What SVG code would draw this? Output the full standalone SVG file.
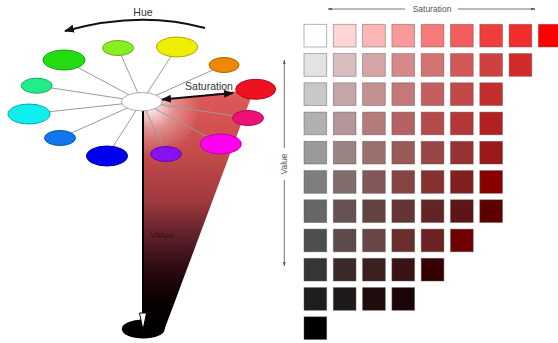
<svg xmlns="http://www.w3.org/2000/svg" width="558" height="343" viewBox="0 0 558 343">
<style>
  .lbl { font-family: "Liberation Sans", Arial, sans-serif; fill: #333; }
  .spoke { stroke: #9a9a9a; stroke-width: 1; fill: none; }
  .hue { stroke-width: 1; }
  .sq { stroke: #555; stroke-opacity: 0.55; stroke-width: 0.8; }
  .gax { stroke: #666; stroke-width: 0.9; fill: none; }
</style>
<defs>
  <marker id="ah" viewBox="0 0 10 10" refX="9" refY="5" markerWidth="5" markerHeight="5" orient="auto-start-reverse" markerUnits="strokeWidth">
    <path d="M0,1 L10,5 L0,9 Z" fill="#111"/>
  </marker>
  <marker id="ahg" viewBox="0 0 10 10" refX="9" refY="5" markerWidth="5" markerHeight="5" orient="auto-start-reverse" markerUnits="strokeWidth">
    <path d="M0,2 L10,5 L0,8 Z" fill="#555"/>
  </marker>
  <linearGradient id="redfall" x1="0" y1="90" x2="0" y2="330" gradientUnits="userSpaceOnUse">
    <stop offset="0" stop-color="#e05a5a"/>
    <stop offset="0.25" stop-color="#c84c4c"/>
    <stop offset="0.46" stop-color="#a03a40"/>
    <stop offset="0.6" stop-color="#62222a"/>
    <stop offset="0.75" stop-color="#2a0a10"/>
    <stop offset="0.88" stop-color="#0a0000"/>
    <stop offset="1" stop-color="#000"/>
  </linearGradient>
  <radialGradient id="glow" cx="152" cy="108" r="48" gradientUnits="userSpaceOnUse">
    <stop offset="0" stop-color="#fff" stop-opacity="0.9"/>
    <stop offset="0.45" stop-color="#fff" stop-opacity="0.35"/>
    <stop offset="1" stop-color="#fff" stop-opacity="0"/>
  </radialGradient>
</defs>

<g id="value-cone">
  <polygon points="143,105 162,100 238,91 252,95 164.6,329 143,329" fill="url(#redfall)"/>
  <polygon points="143,105 162,100 238,91 252,95 164.6,329 143,329" fill="url(#glow)"/>
  <ellipse cx="143.3" cy="329" rx="21.5" ry="9.5" fill="#000"/>
</g>

<g id="connectors">
  <line class="spoke" x1="141.7" y1="101.7" x2="64" y2="60"/>
  <line class="spoke" x1="141.7" y1="101.7" x2="118" y2="48"/>
  <line class="spoke" x1="141.7" y1="101.7" x2="177" y2="47"/>
  <line class="spoke" x1="141.7" y1="101.7" x2="224" y2="65"/>
  <line class="spoke" x1="141.7" y1="101.7" x2="248" y2="118"/>
  <line class="spoke" x1="141.7" y1="101.7" x2="220.7" y2="144"/>
  <line class="spoke" x1="141.7" y1="101.7" x2="166" y2="154"/>
  <line class="spoke" x1="141.7" y1="101.7" x2="107" y2="156"/>
  <line class="spoke" x1="141.7" y1="101.7" x2="60" y2="138"/>
  <line class="spoke" x1="141.7" y1="101.7" x2="29" y2="114"/>
  <line class="spoke" x1="141.7" y1="101.7" x2="36.7" y2="85.7"/>
  <path d="M205,28 Q140,10 65,31" fill="none" stroke="#111" stroke-width="2" marker-end="url(#ah)"/>
  <line x1="162" y1="99.5" x2="233" y2="93" stroke="#111" stroke-width="2" marker-start="url(#ah)" marker-end="url(#ah)"/>
  <line x1="143" y1="111" x2="143" y2="314" stroke="#000" stroke-width="2"/>
  <polygon points="139.5,313 146.5,313 143,330" fill="#fff" stroke="#000" stroke-width="1"/>
  <line class="gax" x1="405" y1="9" x2="328" y2="9" marker-end="url(#ahg)"/>
  <line class="gax" x1="458" y1="9" x2="535" y2="9" marker-end="url(#ahg)"/>
  <line class="gax" x1="284.3" y1="148" x2="284.3" y2="60" marker-end="url(#ahg)"/>
  <line class="gax" x1="284.3" y1="180" x2="284.3" y2="266" marker-end="url(#ahg)"/>
</g>

<g id="hue-wheel">
  <ellipse id="h-green" class="hue" cx="64" cy="60" rx="21" ry="10" fill="#22dd11" stroke="#1aa010"/>
  <ellipse id="h-lime" class="hue" cx="118" cy="48" rx="15.5" ry="7.5" fill="#88ee22" stroke="#66aa18"/>
  <ellipse id="h-yellow" class="hue" cx="177" cy="47" rx="20.5" ry="10" fill="#eeee00" stroke="#b0a800"/>
  <ellipse id="h-orange" class="hue" cx="224" cy="65" rx="15" ry="7.5" fill="#ee8800" stroke="#b06400"/>
  <ellipse id="h-red" class="hue" cx="255.7" cy="89.3" rx="20" ry="10" fill="#ee1122" stroke="#b00a18"/>
  <ellipse id="h-rose" class="hue" cx="248" cy="118" rx="15.5" ry="7.5" fill="#ee1177" stroke="#b00a58"/>
  <ellipse id="h-magenta" class="hue" cx="220.7" cy="144" rx="20.5" ry="10" fill="#ff00ee" stroke="#c000b0"/>
  <ellipse id="h-violet" class="hue" cx="166" cy="154" rx="15.5" ry="7.5" fill="#8811ee" stroke="#640ab0"/>
  <ellipse id="h-blue" class="hue" cx="107" cy="156" rx="20.5" ry="10" fill="#0000ee" stroke="#0000a8"/>
  <ellipse id="h-azure" class="hue" cx="60" cy="138" rx="15.5" ry="7.5" fill="#1177ee" stroke="#0a58b0"/>
  <ellipse id="h-cyan" class="hue" cx="29" cy="114" rx="21" ry="10" fill="#11eeee" stroke="#0aa8b0"/>
  <ellipse id="h-spring" class="hue" cx="36.7" cy="85.7" rx="15.5" ry="7.5" fill="#22ee88" stroke="#18aa60"/>
  <ellipse id="h-center" cx="141.7" cy="101.7" rx="20.3" ry="9.2" fill="#fff" stroke="#999" stroke-width="0.8"/>
</g>

<g id="labels">
  <text class="lbl" x="143" y="16" font-size="10.5" text-anchor="middle">Hue</text>
  <text class="lbl" x="209" y="90" font-size="10.5" text-anchor="middle">Saturation</text>
  <text class="lbl" x="162" y="238" font-size="9.5" text-anchor="middle" style="fill:#3a1218">Value</text>
  <text class="lbl" x="432" y="12" font-size="8.5" text-anchor="middle" style="fill:#555">Saturation</text>
  <text class="lbl" x="0" y="0" font-size="8.5" text-anchor="middle" style="fill:#555" transform="translate(287.3,164) rotate(-90)">Value</text>
</g>

<g id="grid">
  <g id="row0">
    <rect class="sq" x="304" y="24.3" width="22.7" height="22.7" fill="#ffffff"/>
    <rect class="sq" x="333.3" y="24.3" width="22.7" height="22.7" fill="#fdd5d5"/>
    <rect class="sq" x="362.6" y="24.3" width="22.7" height="22.7" fill="#fcb6b6"/>
    <rect class="sq" x="391.9" y="24.3" width="22.7" height="22.7" fill="#f99999"/>
    <rect class="sq" x="421.2" y="24.3" width="22.7" height="22.7" fill="#f67a7a"/>
    <rect class="sq" x="450.5" y="24.3" width="22.7" height="22.7" fill="#f45c5c"/>
    <rect class="sq" x="479.8" y="24.3" width="22.7" height="22.7" fill="#f23d3d"/>
    <rect class="sq" x="509.1" y="24.3" width="22.7" height="22.7" fill="#f12d2d"/>
    <rect class="sq" x="538.4" y="24.3" width="22.7" height="22.7" fill="#ff0000"/>
  </g>
  <g id="row1">
    <rect class="sq" x="304" y="53.6" width="22.7" height="22.7" fill="#e3e3e3"/>
    <rect class="sq" x="333.3" y="53.6" width="22.7" height="22.7" fill="#d8bebe"/>
    <rect class="sq" x="362.6" y="53.6" width="22.7" height="22.7" fill="#d5a4a4"/>
    <rect class="sq" x="391.9" y="53.6" width="22.7" height="22.7" fill="#d48a8a"/>
    <rect class="sq" x="421.2" y="53.6" width="22.7" height="22.7" fill="#d37272"/>
    <rect class="sq" x="450.5" y="53.6" width="22.7" height="22.7" fill="#d25858"/>
    <rect class="sq" x="479.8" y="53.6" width="22.7" height="22.7" fill="#d14040"/>
    <rect class="sq" x="509.1" y="53.6" width="22.7" height="22.7" fill="#d02a2a"/>
  </g>
  <g id="row2">
    <rect class="sq" x="304" y="82.8" width="22.7" height="22.7" fill="#c8c8c8"/>
    <rect class="sq" x="333.3" y="82.8" width="22.7" height="22.7" fill="#c4a6a6"/>
    <rect class="sq" x="362.6" y="82.8" width="22.7" height="22.7" fill="#c49191"/>
    <rect class="sq" x="391.9" y="82.8" width="22.7" height="22.7" fill="#c47878"/>
    <rect class="sq" x="421.2" y="82.8" width="22.7" height="22.7" fill="#c35f5f"/>
    <rect class="sq" x="450.5" y="82.8" width="22.7" height="22.7" fill="#c34848"/>
    <rect class="sq" x="479.8" y="82.8" width="22.7" height="22.7" fill="#c42e2e"/>
  </g>
  <g id="row3">
    <rect class="sq" x="304" y="112.1" width="22.7" height="22.7" fill="#b0b0b0"/>
    <rect class="sq" x="333.3" y="112.1" width="22.7" height="22.7" fill="#b49696"/>
    <rect class="sq" x="362.6" y="112.1" width="22.7" height="22.7" fill="#b47b7b"/>
    <rect class="sq" x="391.9" y="112.1" width="22.7" height="22.7" fill="#b46262"/>
    <rect class="sq" x="421.2" y="112.1" width="22.7" height="22.7" fill="#b44b4b"/>
    <rect class="sq" x="450.5" y="112.1" width="22.7" height="22.7" fill="#b43636"/>
    <rect class="sq" x="479.8" y="112.1" width="22.7" height="22.7" fill="#b42020"/>
  </g>
  <g id="row4">
    <rect class="sq" x="304" y="141.3" width="22.7" height="22.7" fill="#9a9a9a"/>
    <rect class="sq" x="333.3" y="141.3" width="22.7" height="22.7" fill="#9a8383"/>
    <rect class="sq" x="362.6" y="141.3" width="22.7" height="22.7" fill="#9d7070"/>
    <rect class="sq" x="391.9" y="141.3" width="22.7" height="22.7" fill="#9a5a5a"/>
    <rect class="sq" x="421.2" y="141.3" width="22.7" height="22.7" fill="#9a4646"/>
    <rect class="sq" x="450.5" y="141.3" width="22.7" height="22.7" fill="#973232"/>
    <rect class="sq" x="479.8" y="141.3" width="22.7" height="22.7" fill="#9a1a1a"/>
  </g>
  <g id="row5">
    <rect class="sq" x="304" y="170.6" width="22.7" height="22.7" fill="#7e7e7e"/>
    <rect class="sq" x="333.3" y="170.6" width="22.7" height="22.7" fill="#826d6d"/>
    <rect class="sq" x="362.6" y="170.6" width="22.7" height="22.7" fill="#835858"/>
    <rect class="sq" x="391.9" y="170.6" width="22.7" height="22.7" fill="#864444"/>
    <rect class="sq" x="421.2" y="170.6" width="22.7" height="22.7" fill="#863030"/>
    <rect class="sq" x="450.5" y="170.6" width="22.7" height="22.7" fill="#822020"/>
    <rect class="sq" x="479.8" y="170.6" width="22.7" height="22.7" fill="#880000"/>
  </g>
  <g id="row6">
    <rect class="sq" x="304" y="199.8" width="22.7" height="22.7" fill="#676767"/>
    <rect class="sq" x="333.3" y="199.8" width="22.7" height="22.7" fill="#665252"/>
    <rect class="sq" x="362.6" y="199.8" width="22.7" height="22.7" fill="#664343"/>
    <rect class="sq" x="391.9" y="199.8" width="22.7" height="22.7" fill="#663434"/>
    <rect class="sq" x="421.2" y="199.8" width="22.7" height="22.7" fill="#632424"/>
    <rect class="sq" x="450.5" y="199.8" width="22.7" height="22.7" fill="#5e1515"/>
    <rect class="sq" x="479.8" y="199.8" width="22.7" height="22.7" fill="#5e0000"/>
  </g>
  <g id="row7">
    <rect class="sq" x="304" y="229.1" width="22.7" height="22.7" fill="#4e4e4e"/>
    <rect class="sq" x="333.3" y="229.1" width="22.7" height="22.7" fill="#5d4a4a"/>
    <rect class="sq" x="362.6" y="229.1" width="22.7" height="22.7" fill="#6a4545"/>
    <rect class="sq" x="391.9" y="229.1" width="22.7" height="22.7" fill="#6a2e2e"/>
    <rect class="sq" x="421.2" y="229.1" width="22.7" height="22.7" fill="#6b2222"/>
    <rect class="sq" x="450.5" y="229.1" width="22.7" height="22.7" fill="#6e0000"/>
  </g>
  <g id="row8">
    <rect class="sq" x="304" y="258.3" width="22.7" height="22.7" fill="#363636"/>
    <rect class="sq" x="333.3" y="258.3" width="22.7" height="22.7" fill="#3b2a2a"/>
    <rect class="sq" x="362.6" y="258.3" width="22.7" height="22.7" fill="#3c1f1f"/>
    <rect class="sq" x="391.9" y="258.3" width="22.7" height="22.7" fill="#3b1313"/>
    <rect class="sq" x="421.2" y="258.3" width="22.7" height="22.7" fill="#350000"/>
  </g>
  <g id="row9">
    <rect class="sq" x="304" y="287.6" width="22.7" height="22.7" fill="#1e1e1e"/>
    <rect class="sq" x="333.3" y="287.6" width="22.7" height="22.7" fill="#1f1a1a"/>
    <rect class="sq" x="362.6" y="287.6" width="22.7" height="22.7" fill="#1f0d0d"/>
    <rect class="sq" x="391.9" y="287.6" width="22.7" height="22.7" fill="#1a0606"/>
  </g>
  <g id="row10">
    <rect class="sq" x="304" y="316.8" width="22.7" height="22.7" fill="#000000"/>
  </g>
</g>
</svg>
